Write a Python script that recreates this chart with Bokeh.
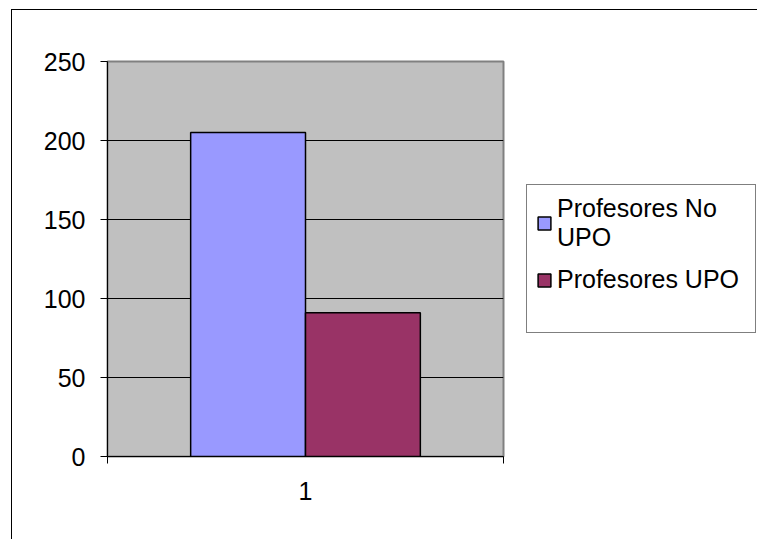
from bokeh.plotting import figure
from bokeh.models import Range1d, FixedTicker, Legend, LegendItem
from bokeh.embed import file_html
from bokeh.resources import INLINE

categories = ["1"]
series_names = ["Profesores No\nUPO", "Profesores UPO"]
no_upo = [205]
upo = [91]
y_ticks = [0, 50, 100, 150, 200, 250]
colors = ["#9999FF", "#993366"]

FONT = "Liberation Sans"
FS = "25px"

p = figure(frame_width=396, frame_height=395, output_backend="svg", toolbar_location=None,
           x_range=Range1d(0, len(categories)), y_range=Range1d(0, 250),
           min_border_left=95, min_border_right=253, min_border_top=51,
           min_border_bottom=83,
           margin=(9, 0, 0, 11),
           styles={"border-left": "1px solid black", "border-top": "1px solid black"})
p.background_fill_color = "#C0C0C0"
p.border_fill_color = "white"
p.outline_line_color = "#808080"
p.outline_line_width = 2

centers = [i + 0.5 for i in range(len(categories))]
bw = 0.29
r1 = p.vbar(x=[c - bw / 2 for c in centers], top=no_upo, width=bw, bottom=0,
            fill_color=colors[0], line_color="black", line_width=1.5)
r2 = p.vbar(x=[c + bw / 2 for c in centers], top=upo, width=bw, bottom=0,
            fill_color=colors[1], line_color="black", line_width=1.5)
blank = p.vbar(x=[], top=[], width=bw, fill_color=None, line_color=None)

p.xgrid.visible = False
p.ygrid.ticker = FixedTicker(ticks=y_ticks[1:-1])
p.ygrid.grid_line_color = "black"
p.ygrid.grid_line_width = 1
p.ygrid.level = "image"

p.yaxis.ticker = FixedTicker(ticks=y_ticks)
p.yaxis.major_label_text_font = FONT
p.yaxis.major_label_text_font_size = FS
p.yaxis.major_label_text_color = "black"
p.yaxis.major_tick_out = 7
p.yaxis.major_tick_in = 0
p.yaxis.minor_tick_line_color = None
p.yaxis.major_label_standoff = 15
p.yaxis.axis_line_color = "black"

p.xaxis.ticker = FixedTicker(ticks=centers, minor_ticks=[float(i) for i in range(len(categories) + 1)])
p.xaxis.major_label_overrides = {c: cat for c, cat in zip(centers, categories)}
p.xaxis.major_tick_out = 0
p.xaxis.major_tick_in = 0
p.xaxis.minor_tick_out = 7
p.xaxis.minor_tick_in = 0
p.xaxis.minor_tick_line_color = "black"
p.xaxis.major_label_text_font = FONT
p.xaxis.major_label_text_font_size = FS
p.xaxis.major_label_text_color = "black"
p.xaxis.major_label_standoff = 18
p.xaxis.axis_line_color = "black"

legend = Legend(items=[LegendItem(label=series_names[0], renderers=[r1]),
                       LegendItem(label=series_names[1], renderers=[r2]),
                       LegendItem(label="", renderers=[blank])],
                location=(23, 123))
legend.background_fill_color = "white"
legend.background_fill_alpha = 1
legend.border_line_color = "black"
legend.border_line_width = 1
legend.label_text_font = FONT
legend.label_text_font_size = FS
legend.label_text_color = "black"
legend.glyph_width = 16
legend.glyph_height = 16
legend.label_standoff = 5
legend.label_width = 189
legend.padding = 9
legend.spacing = 13
legend.margin = 0
p.add_layout(legend, "right")

open("out.html", "w").write(file_html(p, INLINE))
